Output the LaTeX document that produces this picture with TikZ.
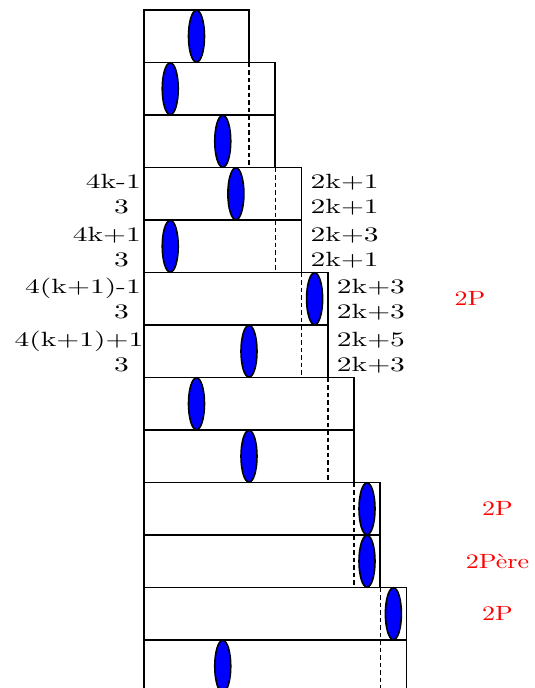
\documentclass[tikz,border=0pt]{standalone}
\usetikzlibrary{shapes.geometric,calc}
\newcommand{\sx}[1]{\scalebox{2.95}[2.06]{#1}}
\begin{document}
\begin{tikzpicture}[x=1pt,y=-1pt,
 rowbox/.style={draw,line width=1.8pt,rectangle,anchor=north west,minimum height=52.5pt,inner sep=0pt,outer sep=0pt},
 blob/.style={draw,ellipse,fill=blue,line width=1.6pt,minimum width=16pt,minimum height=52pt,inner sep=0pt},
 dsh/.style={dash pattern=on 4.5pt off 3pt,line width=1.5pt},
 lab/.style={font=\fontsize{10}{12}\selectfont,inner sep=0pt},
 redlab/.style={lab,text=red,anchor=center}]
\useasboundingbox (0,0) rectangle (535,688);
% rows
\node[rowbox,minimum width=105pt]    (r0)  at (144,10) {};
\node[rowbox,minimum width=131.25pt] (r1)  at (144,62.5) {};
\node[rowbox,minimum width=131.25pt] (r2)  at (144,115) {};
\node[rowbox,minimum width=157.5pt]  (r3)  at (144,167.5) {};
\node[rowbox,minimum width=157.5pt]  (r4)  at (144,220) {};
\node[rowbox,minimum width=183.75pt] (r5)  at (144,272.5) {};
\node[rowbox,minimum width=183.75pt] (r6)  at (144,325) {};
\node[rowbox,minimum width=210pt]    (r7)  at (144,377.5) {};
\node[rowbox,minimum width=210pt]    (r8)  at (144,430) {};
\node[rowbox,minimum width=236.25pt] (r9)  at (144,482.5) {};
\node[rowbox,minimum width=236.25pt] (r10) at (144,535) {};
\node[rowbox,minimum width=262.5pt]  (r11) at (144,587.5) {};
\node[rowbox,minimum width=262.5pt]  (r12) at (144,640) {};
% dashed continuations of previous right edges
\draw[dsh] (r0.south east) -- (r0.east |- r2.south);
\draw[dsh] (r2.south east) -- (r2.east |- r4.south);
\draw[dsh] (r4.south east) -- (r4.east |- r6.south);
\draw[dsh] (r6.south east) -- (r6.east |- r8.south);
\draw[dsh] (r8.south east) -- (r8.east |- r10.south);
\draw[dsh] (r10.south east) -- (r10.east |- r12.south);
% ellipses
\node[blob] (e0)  at (196.5,36.25) {};
\node[blob] (e1)  at (170.25,88.75) {};
\node[blob] (e2)  at (222.75,141.25) {};
\node[blob] (e3)  at (235.9,193.75) {};
\node[blob] (e4)  at (170.25,246.25) {};
\node[blob] (e5)  at (314.6,298.75) {};
\node[blob] (e6)  at (249,351.25) {};
\node[blob] (e7)  at (196.5,403.75) {};
\node[blob] (e8)  at (249,456.25) {};
\node[blob] (e9)  at (367,508.75) {};
\node[blob] (e10) at (367,561.25) {};
\node[blob] (e11) at (393.4,613.75) {};
\node[blob] (e12) at (222.75,666.25) {};
% left labels
\node[lab,anchor=base east] (l3a) at ($(r3.north west)+(-3,21)$) {\sx{4k-1}};
\node[lab,anchor=base east] (l3b) at ($(r3.north west)+(-15,46)$) {\sx{3}};
\node[lab,anchor=base east] (l4a) at ($(r4.north west)+(-3,21)$) {\sx{4k+1}};
\node[lab,anchor=base east] (l4b) at ($(r4.north west)+(-15,46)$) {\sx{3}};
\node[lab,anchor=base east] (l5a) at ($(r5.north west)+(-3,21)$) {\sx{4(k+1)-1}};
\node[lab,anchor=base east] (l5b) at ($(r5.north west)+(-15,46)$) {\sx{3}};
\node[lab,anchor=base east] (l6a) at ($(r6.north west)+(-0.5,21)$) {\sx{4(k+1)+1}};
\node[lab,anchor=base east] (l6b) at ($(r6.north west)+(-15,46)$) {\sx{3}};
% right labels
\node[lab,anchor=base west] (q3a) at ($(r3.north east)+(9,21)$) {\sx{2k+1}};
\node[lab,anchor=base west] (q3b) at ($(r3.north east)+(9,46)$) {\sx{2k+1}};
\node[lab,anchor=base west] (q4a) at ($(r4.north east)+(9,21)$) {\sx{2k+3}};
\node[lab,anchor=base west] (q4b) at ($(r4.north east)+(9,46)$) {\sx{2k+1}};
\node[lab,anchor=base west] (q5a) at ($(r5.north east)+(9,21)$) {\sx{2k+3}};
\node[lab,anchor=base west] (q5b) at ($(r5.north east)+(9,46)$) {\sx{2k+3}};
\node[lab,anchor=base west] (q6a) at ($(r6.north east)+(9,21)$) {\sx{2k+5}};
\node[lab,anchor=base west] (q6b) at ($(r6.north east)+(9,46)$) {\sx{2k+3}};
% red labels
\node[redlab] (p5)  at (470,0 |- r5.west)  {\scalebox{2.6}[2.06]{2P}};
\node[redlab] (p9)  at (497.5,0 |- r9.west)  {\scalebox{2.6}[2.06]{2P}};
\node[redlab] (p10) at (497.5,0 |- r10.west) {\scalebox{2.6}[2.06]{2Père}};
\node[redlab] (p11) at (497.5,0 |- r11.west) {\scalebox{2.6}[2.06]{2P}};
\end{tikzpicture}
\end{document}
